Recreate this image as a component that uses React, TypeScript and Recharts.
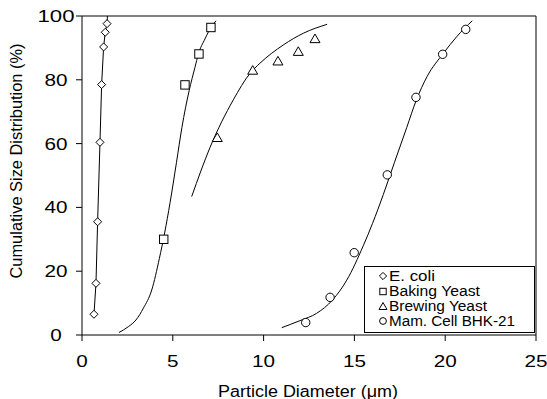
import { ComposedChart, Line, Scatter, XAxis, YAxis, ReferenceLine, Legend } from 'recharts';

// axis ticks
const xTicks = [0, 5, 10, 15, 20, 25];
const yTicks = [0, 20, 40, 60, 80, 100];

// measured points (particle diameter um, cumulative %)
const ecoliX = [0.66, 0.77, 0.86, 0.99, 1.08, 1.19, 1.28, 1.38];
const ecoliY = [6.5, 16.2, 35.5, 60.4, 78.5, 90.3, 94.9, 97.6];
const bakingX = [4.5, 5.67, 6.44, 7.1];
const bakingY = [30, 78.4, 88.1, 96.4];
const brewingX = [7.45, 9.4, 10.79, 11.91, 12.83];
const brewingY = [62, 83.1, 86, 89, 93];
const mamX = [12.32, 13.66, 14.99, 16.81, 18.39, 19.86, 21.13];
const mamY = [3.9, 11.8, 25.8, 50.2, 74.5, 88, 95.8];

// fitted curves
const ecoliFitX = [0.66, 0.77, 0.86, 0.99, 1.08, 1.19, 1.28, 1.38, 1.4];
const ecoliFitY = [6.5, 16.2, 35.5, 60.4, 78.5, 90.3, 94.9, 97.6, 100];
const bakingFitX = [2.04, 2.55, 2.97, 3.38, 3.84, 4.26, 4.55, 4.85, 5.2, 5.5, 5.9, 6.22, 6.41, 6.77, 7.1, 7.38];
const bakingFitY = [0.8, 2.6, 4.7, 8.4, 14.1, 24, 32, 41.5, 54, 65, 76.6, 83.9, 88.1, 92.8, 96.4, 98.5];
const brewingFitX = [6.04, 7.05, 8.33, 9.25, 9.8, 11.08, 12.19, 13.5];
const brewingFitY = [43.4, 58.8, 73.7, 82.0, 85.2, 90.9, 94.6, 97.4];
const mamFitX = [11.0, 12.0, 12.92, 13.8, 14.58, 15.49, 16.0, 16.59, 17.2, 17.88, 18.4, 19.0, 19.9, 20.63, 21.49];
const mamFitY = [2.3, 4.5, 6.8, 11, 17.2, 28, 35, 44, 54, 65, 73.5, 81, 88.3, 93.5, 98.5];

const legendNames = ['E. coli', 'Baking Yeast', 'Brewing Yeast', 'Mam. Cell BHK-21'];

const zip = (xs: number[], ys: number[]) => xs.map((x, i) => ({ x, y: ys[i] }));

const FONT = '"Liberation Sans", Arial, sans-serif';

const diamond = (cx: number, cy: number, r = 4) => (
  <path d={`M${cx},${cy - r}L${cx + r},${cy}L${cx},${cy + r}L${cx - r},${cy}Z`} fill="#fff" stroke="#000" />
);
const square = (cx: number, cy: number, r = 4.2) => (
  <rect x={cx - r} y={cy - r} width={2 * r} height={2 * r} fill="#fff" stroke="#000" />
);
const triangle = (cx: number, cy: number, w = 10, h = 8.6) => (
  <path d={`M${cx},${cy - h / 2}L${cx + w / 2},${cy + h / 2}L${cx - w / 2},${cy + h / 2}Z`} fill="#fff" stroke="#000" />
);
const circle = (cx: number, cy: number, r = 4.2) => <circle cx={cx} cy={cy} r={r} fill="#fff" stroke="#000" />;

const digitsLen = (s: string) => (s.length === 3 ? 37 : s.length * 11.5);

function XTick(props: any) {
  const s = String(props.payload.value);
  return (
    <text x={props.x} y={367} textAnchor="middle" fontSize={16} fontFamily={FONT} fill="#000"
      textLength={digitsLen(s)} lengthAdjust="spacingAndGlyphs">{s}</text>
  );
}

function YTick(props: any) {
  const s = String(props.payload.value);
  return (
    <text x={56} y={props.y + 6} textAnchor="middle" fontSize={16} fontFamily={FONT} fill="#000"
      textLength={digitsLen(s)} lengthAdjust="spacingAndGlyphs">{s}</text>
  );
}

const xTitle = () => (
  <text x={308} y={397} textAnchor="middle" fontSize={16} fontFamily={FONT} fill="#000"
    textLength={180} lengthAdjust="spacingAndGlyphs">Particle Diameter (μm)</text>
);
const yTitle = () => (
  <text transform="translate(22,161) rotate(-90)" textAnchor="middle" fontSize={16} fontFamily={FONT} fill="#000"
    textLength={235} lengthAdjust="spacingAndGlyphs">Cumulative Size Distribution (%)</text>
);

const legendLens = [46, 91, 98, 126];

function LegendBox() {
  const marks = [
    diamond(19, 10, 3.6),
    square(19, 25.5, 3.2),
    triangle(19, 40, 8, 7),
    circle(19, 55, 3.4),
  ];
  return (
    <svg width={171} height={67} style={{ display: 'block' }}>
      <rect x={0.5} y={0.5} width={170} height={66} fill="#fff" stroke="#000" />
      {legendNames.map((n, i) => (
        <g key={n}>
          {marks[i]}
          <text x={25} y={15 + i * 15} fontSize={14} fontFamily={FONT} fill="#000"
            textLength={legendLens[i]} lengthAdjust="spacingAndGlyphs">{n}</text>
        </g>
      ))}
    </svg>
  );
}

export default function App() {
  return (
    <div style={{ position: 'absolute', left: 0, top: 0, width: 547, height: 399, background: '#fff' }}>
      <ComposedChart width={547} height={399} margin={{ top: 16, right: 11, bottom: 0, left: 0 }}>
        <XAxis type="number" dataKey="x" domain={[0, 25]} ticks={xTicks} height={64}
          axisLine={{ stroke: '#000' }} tickLine={{ stroke: '#000' }} tickSize={6} tick={XTick}
          label={{ content: xTitle }} />
        <YAxis type="number" dataKey="y" domain={[0, 100]} ticks={yTicks} width={82}
          axisLine={{ stroke: '#000' }} tickLine={{ stroke: '#000' }} tickSize={6} tick={YTick}
          label={{ content: yTitle }} />
        <ReferenceLine y={100} stroke="#808080" strokeWidth={2} />
        <ReferenceLine x={25} stroke="#000" />
        <Line data={zip(ecoliFitX, ecoliFitY)} dataKey="y" type="linear" stroke="#000" strokeWidth={1} dot={false} activeDot={false} isAnimationActive={false} />
        <Line data={zip(bakingFitX, bakingFitY)} dataKey="y" type="monotone" stroke="#000" strokeWidth={1} dot={false} activeDot={false} isAnimationActive={false} />
        <Line data={zip(brewingFitX, brewingFitY)} dataKey="y" type="monotone" stroke="#000" strokeWidth={1} dot={false} activeDot={false} isAnimationActive={false} />
        <Line data={zip(mamFitX, mamFitY)} dataKey="y" type="monotone" stroke="#000" strokeWidth={1} dot={false} activeDot={false} isAnimationActive={false} />
        <Scatter data={zip(ecoliX, ecoliY)} isAnimationActive={false} shape={(p: any) => diamond(p.cx, p.cy)} />
        <Scatter data={zip(bakingX, bakingY)} isAnimationActive={false} shape={(p: any) => square(p.cx, p.cy)} />
        <Scatter data={zip(brewingX, brewingY)} isAnimationActive={false} shape={(p: any) => triangle(p.cx, p.cy)} />
        <Scatter data={zip(mamX, mamY)} isAnimationActive={false} shape={(p: any) => circle(p.cx, p.cy)} />
        <Legend content={LegendBox} layout="horizontal" verticalAlign="middle" align="center"
          wrapperStyle={{ position: 'absolute', left: 364, top: 266, width: 171, height: 67 }} />
      </ComposedChart>
    </div>
  );
}
